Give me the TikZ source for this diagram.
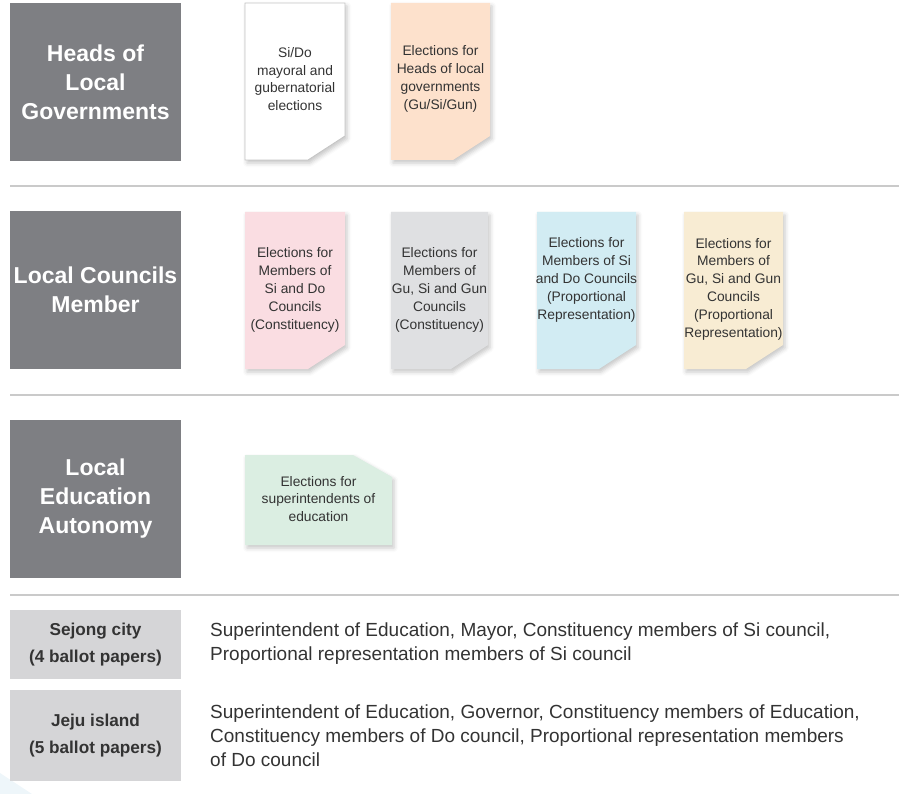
\documentclass[tikz,border=0pt]{standalone}
\usepackage{fontspec}
\setmainfont{Liberation Sans}
\usetikzlibrary{shadows.blur}
\definecolor{headgray}{HTML}{7E7F83}
\definecolor{lightbox}{HTML}{D5D5D7}
\definecolor{rulegray}{HTML}{CACACA}
\definecolor{txt}{HTML}{333333}
\definecolor{cpeach}{HTML}{FDE1CC}
\definecolor{cpink}{HTML}{FADDE2}
\definecolor{cgray}{HTML}{DFE0E2}
\definecolor{cblue}{HTML}{D2ECF3}
\definecolor{ccream}{HTML}{F8ECD3}
\definecolor{cgreen}{HTML}{DBEEE2}
\definecolor{cborder}{HTML}{C4C4C4}
\definecolor{faintblue}{HTML}{EEF6FA}
\tikzset{
  headbox/.style={fill=headgray, text=white, align=center, inner sep=0pt,
    minimum width=171pt, minimum height=158pt,
    font=\bfseries\fontsize{23}{29}\selectfont},
  cityfill/.style={fill=lightbox, text=txt, align=center, inner sep=0pt,
    minimum width=171pt, font=\bfseries\fontsize{17.2}{27}\selectfont},
  papertext/.style={text=txt, align=center, inner sep=0pt,
    font=\fontsize{13.8}{17.8}\selectfont},
  papershape/.style={blur shadow={shadow xshift=2pt, shadow yshift=-3pt,
    shadow blur radius=4pt, shadow opacity=22}},
  bodytext/.style={text=txt, align=left, anchor=west, inner sep=0pt,
    font=\fontsize{19}{24}\selectfont},
  sep/.style={draw=rulegray, line width=1.2pt}
}
% name, L, T, R, B, fill options, text centre y, text
\newcommand\ballotBR[8]{%
  \fill[#6, papershape] (#2,#3) -- (#4,#3) -- (#4,#5-24) -- (#4-37,#5) -- (#2,#5) -- cycle;
  \node[papertext] (#1) at ({(#2+#4)/2},#7) {#8};}
\begin{document}
\begin{tikzpicture}[x=1pt,y=-1pt]
\useasboundingbox (0,0) rectangle (899,794);
\fill[faintblue] (0,773) -- (32,794) -- (0,794) -- cycle;

% section headings
\node[headbox] (heads) at (95.5,82) {Heads of\\Local\\Governments};
\node[headbox] (councils) at (95.5,290) {Local Councils\\Member};
\node[headbox] (educ) at (95.5,499) {Local\\Education\\Autonomy};

% separators
\coordinate (s1a) at (10,186); \coordinate (s1b) at (899,186);
\coordinate (s2a) at (10,395); \coordinate (s2b) at (899,395);
\coordinate (s3a) at (10,595); \coordinate (s3b) at (899,595);
\draw[sep] (s1a) -- (s1b);
\draw[sep] (s2a) -- (s2b);
\draw[sep] (s3a) -- (s3b);

% row 1
\ballotBR{p1}{245}{3}{345}{160}{fill=white, draw=cborder, line width=0.8pt}{79}{Si/Do\\mayoral and\\gubernatorial\\elections}
\ballotBR{p2}{391}{3}{490}{160}{fill=cpeach}{79}{Elections for\\Heads of local\\governments\\(Gu/Si/Gun)}

% row 2
\ballotBR{p3}{245}{212}{345}{369}{fill=cpink}{290}{Elections for\\Members of\\Si and Do\\Councils\\(Constituency)}
\ballotBR{p4}{391}{212}{488}{369}{fill=cgray}{290}{Elections for\\Members of\\Gu, Si and Gun\\Councils\\(Constituency)}
\ballotBR{p5}{537}{212}{636}{369}{fill=cblue}{280}{Elections for\\Members of Si\\and Do Councils\\(Proportional\\Representation)}
\ballotBR{p6}{684}{212}{783}{369}{fill=ccream}{289}{Elections for\\Members of\\Gu, Si and Gun\\Councils\\(Proportional\\Representation)}

% row 3 (top-right corner cut)
\fill[cgreen, papershape] (245,455) -- (353,455) -- (392,477) -- (392,545) -- (245,545) -- cycle;
\node[papertext] (p7) at (318.5,499) {Elections for\\superintendents of\\education};

% bottom rows
\node[cityfill, minimum height=69pt] (sejong) at (95.5,644.5) {Sejong city\\(4 ballot papers)};
\node[cityfill, minimum height=91pt] (jeju) at (95.5,735.5) {Jeju island\\(5 ballot papers)};
\node[bodytext] (sejongtxt) at (210,644) {Superintendent of Education, Mayor, Constituency members of Si council,\\Proportional representation members of Si council};
\node[bodytext] (jejutxt) at (210,736) {Superintendent of Education, Governor, Constituency members of Education,\\Constituency members of Do council, Proportional representation members\\of Do council};
\end{tikzpicture}
\end{document}
